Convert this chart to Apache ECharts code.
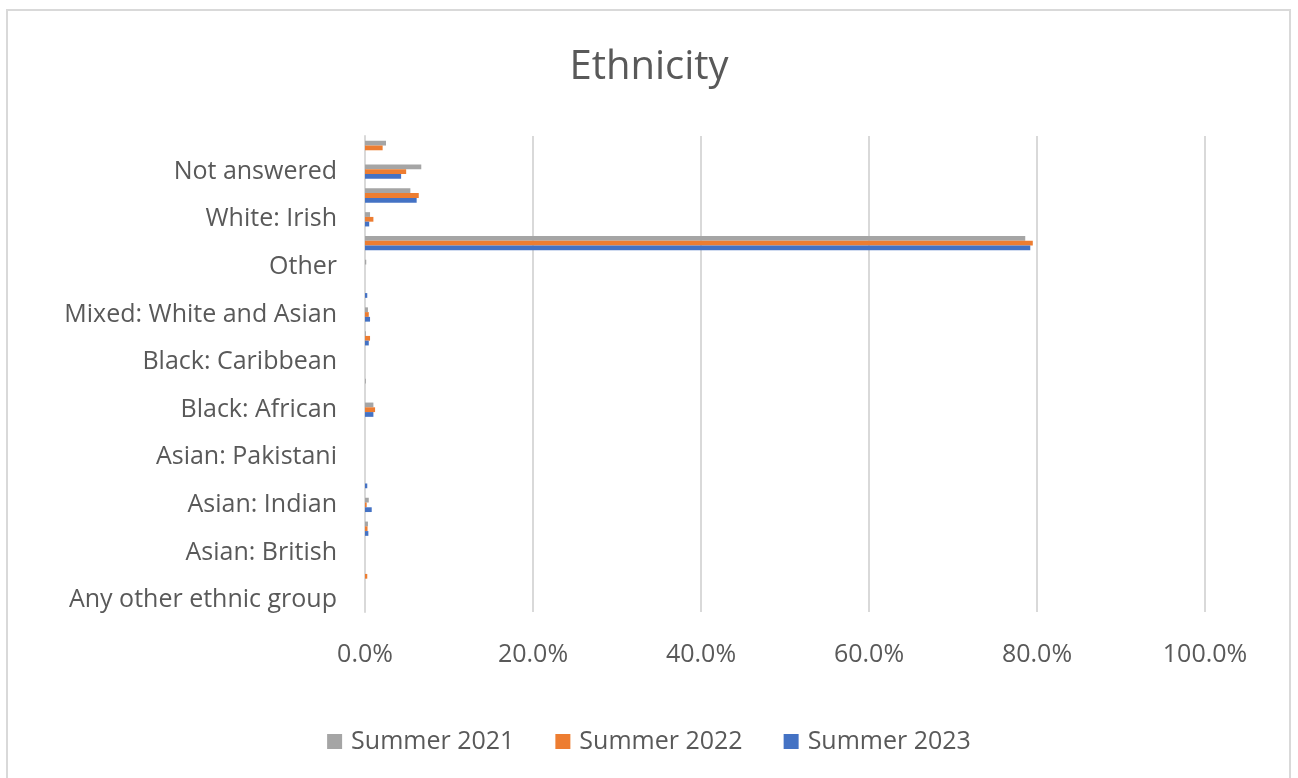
<!DOCTYPE html>
<html>
<head>
<meta charset="utf-8">
<title>Ethnicity</title>
<script src="https://cdn.jsdelivr.net/npm/echarts@6/dist/echarts.min.js"></script>
<style>
  html, body { margin: 0; padding: 0; background: #ffffff; }
  #chart { width: 1298px; height: 778px; }
</style>
</head>
<body>
<div id="chart"></div>
<script>
// Categories listed bottom to top
const categories = [
  'Any other ethnic group',
  'Asian: Bangladeshi',
  'Asian: British',
  'Asian: Chinese',
  'Asian: Indian',
  'Asian: Other',
  'Asian: Pakistani',
  'Black: Other',
  'Black: African',
  'Black: British',
  'Black: Caribbean',
  'Mixed: Any other',
  'Mixed: White and Asian',
  'Mixed: White and Black',
  'Other',
  'White: British',
  'White: Irish',
  'White: Other',
  'Not answered',
  'Prefer not to say'
];

// Share of respondents, percent
const summer2021 = [0, 0, 0, 0.35, 0.45, 0, 0, 0, 1.0, 0.1, 0, 0.1, 0.35, 0, 0.15, 78.6, 0.6, 5.4, 6.7, 2.5];
const summer2022 = [0, 0.27, 0, 0.3, 0.2, 0, 0, 0, 1.2, 0, 0, 0.6, 0.45, 0, 0, 79.5, 1.0, 6.4, 4.9, 2.1];
const summer2023 = [0, 0, 0, 0.4, 0.8, 0.27, 0, 0, 1.0, 0, 0, 0.45, 0.6, 0.27, 0, 79.2, 0.5, 6.15, 4.3, 0];

const xTicks = [0, 20, 40, 60, 80, 100];

const textColor = '#595959';
const fontFamily = '"Open Sans", "Noto Sans", sans-serif';

const chart = echarts.init(document.getElementById('chart'));

function barSeries(name, data, color) {
  return {
    name: name,
    type: 'bar',
    data: data,
    itemStyle: { color: color },
    barGap: '0%',
    barCategoryGap: '40%'
  };
}

chart.setOption({
  animation: false,
  textStyle: { fontFamily: fontFamily, color: textColor },
  title: {
    text: 'Ethnicity',
    left: 'center',
    top: 43,
    textStyle: { fontSize: 40, fontWeight: 'normal', color: textColor, fontFamily: fontFamily }
  },
  graphic: [{
    type: 'rect',
    shape: { x: 7, y: 10, width: 1283, height: 800 },
    style: { fill: 'none', stroke: '#d9d9d9', lineWidth: 2 },
    silent: true
  }],
  legend: {
    data: ['Summer 2021', 'Summer 2022', 'Summer 2023'],
    top: 724,
    left: 'center',
    itemWidth: 15,
    itemHeight: 15,
    itemGap: 41,
    icon: 'rect',
    textStyle: { fontSize: 25, color: textColor, fontFamily: fontFamily, padding: [0, 0, 0, 4] }
  },
  grid: { left: 365, right: 93, top: 136, bottom: 166, containLabel: false },
  xAxis: {
    type: 'value',
    min: xTicks[0],
    max: xTicks[xTicks.length - 1],
    interval: 20,
    axisLine: { show: false },
    axisTick: { show: false },
    splitLine: { show: true, lineStyle: { color: '#d9d9d9', width: 2 } },
    axisLabel: {
      fontSize: 25,
      color: textColor,
      margin: 30,
      formatter: v => v.toFixed(1) + '%'
    }
  },
  yAxis: {
    type: 'category',
    data: categories,
    axisLine: { show: true, lineStyle: { color: '#d9d9d9', width: 2 } },
    axisTick: { show: false },
    axisLabel: { interval: 1, fontSize: 25, color: textColor, margin: 28, padding: [4, 0, 0, 0] }
  },
  series: [
    barSeries('Summer 2021', summer2021, '#a5a5a5'),
    barSeries('Summer 2022', summer2022, '#ed7d31'),
    barSeries('Summer 2023', summer2023, '#4472c4')
  ]
});
</script>
</body>
</html>
